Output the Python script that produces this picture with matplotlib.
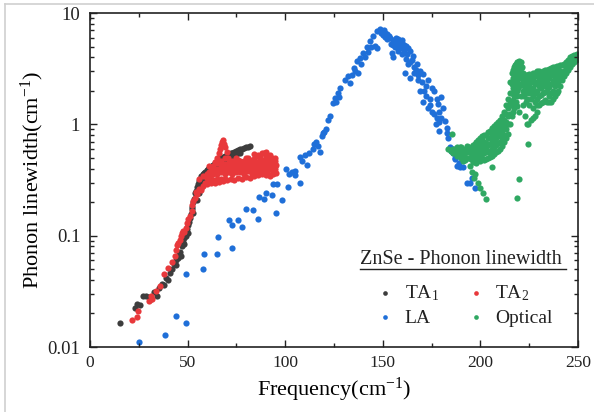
import matplotlib
matplotlib.use("Agg")
import matplotlib.pyplot as plt
from matplotlib.lines import Line2D
from matplotlib.ticker import FixedLocator, FuncFormatter, LogLocator, NullFormatter

plt.rcParams['font.family'] = ['Liberation Serif', 'DejaVu Serif']
plt.rcParams['mathtext.fontset'] = 'custom'
plt.rcParams['mathtext.rm'] = 'Liberation Serif'
plt.rcParams['mathtext.it'] = 'Liberation Serif:italic'

# ---- phonon linewidth data, ZnSe ----
ta1_freq = [15.5, 23, 24, 25.5, 27, 28.5, 30, 31.5, 33, 34.5, 35.5, 37, 38, 39, 40, 41, 42, 43,
            44, 45, 45.5, 46, 47, 47.5, 48, 49, 49.5, 50, 50.5, 51, 51.5, 52, 52.5, 53, 53.5,
            54, 54.5, 55, 55.5, 56, 56.5, 57, 57.5, 58, 58.5, 59, 60, 60.5, 61, 62, 62.5, 63,
            64, 64.5, 65, 66, 66.5, 67, 68, 69, 70, 71, 72, 73, 74, 75, 76, 77, 78, 79, 80,
            81, 82, 53, 55, 56, 57, 58, 59.5, 61, 63, 65, 67, 69, 71, 73, 48, 50, 46.5, 44,
            57.5, 59, 61, 62, 64, 60, 70, 75, 77]
ta1_width = [0.0165, 0.0225, 0.0245, 0.024, 0.029, 0.029, 0.028, 0.027, 0.031, 0.029, 0.034,
             0.037, 0.036, 0.042, 0.040, 0.046, 0.050, 0.056, 0.061, 0.063, 0.068, 0.072,
             0.080, 0.088, 0.095, 0.100, 0.115, 0.125, 0.132, 0.145, 0.155, 0.175, 0.180,
             0.200, 0.215, 0.240, 0.250, 0.275, 0.290, 0.310, 0.325, 0.340, 0.335, 0.355,
             0.365, 0.370, 0.385, 0.395, 0.405, 0.415, 0.425, 0.435, 0.450, 0.460, 0.470,
             0.485, 0.495, 0.500, 0.510, 0.520, 0.530, 0.540, 0.550, 0.555, 0.565, 0.575,
             0.585, 0.595, 0.605, 0.615, 0.625, 0.630, 0.635, 0.16, 0.21, 0.24, 0.27, 0.29,
             0.32, 0.34, 0.38, 0.42, 0.44, 0.47, 0.48, 0.50, 0.085, 0.105, 0.065, 0.055,
             0.30, 0.33, 0.37, 0.36, 0.40, 0.35, 0.49, 0.53, 0.55]

ta2_freq = [21.5, 24, 24.5, 30, 31, 32, 34, 36, 38, 40, 42, 43.5, 44, 44.5, 45, 46, 46.5, 47,
            47.5, 48, 49, 49.5, 50, 51, 52, 52.5, 53, 54, 54.5, 55, 56, 57, 58, 59, 60, 61,
            62, 63, 64, 65, 66, 67, 68, 69, 70, 72, 74, 76, 78, 80, 82, 84, 86, 88, 90, 92,
            94, 95.5,
            56, 58, 60, 62, 63, 64, 65, 66, 66.5, 67, 67.5, 68, 68.5, 69, 70, 70.5, 71, 72,
            73, 74, 75, 76, 77, 78, 79, 80, 81, 82, 83, 84, 85, 86, 87, 88, 89, 90, 91, 92,
            93, 94, 95, 95.5,
            60, 62, 64, 66, 68, 70, 72, 74, 76, 78, 80, 82, 84, 86, 88, 90, 92, 94, 69, 71,
            75, 79, 83, 87, 91,
            61, 61, 61, 63, 63, 65, 65, 65, 67, 67, 67, 69, 69, 69, 71, 71, 73, 73, 73,
            75, 75, 75, 77, 77, 77, 79, 79, 79, 81, 81, 81, 83, 83, 83, 85, 85, 85, 87, 87,
            87, 89, 89, 89, 91, 91, 91, 93, 93, 93, 95, 95, 95,
            84, 86, 88, 90, 92, 89, 85, 80]
ta2_width = [0.0175, 0.0185, 0.021, 0.026, 0.0285, 0.027, 0.032, 0.035, 0.045, 0.051, 0.058,
             0.066, 0.075, 0.082, 0.086, 0.092, 0.100, 0.106, 0.110, 0.108, 0.118, 0.130,
             0.140, 0.150, 0.165, 0.190, 0.205, 0.220, 0.245, 0.235, 0.265, 0.255, 0.280,
             0.300, 0.290, 0.310, 0.300, 0.315, 0.300, 0.320, 0.305, 0.320, 0.310, 0.325,
             0.315, 0.320, 0.315, 0.330, 0.325, 0.335, 0.330, 0.345, 0.350, 0.355, 0.350,
             0.345, 0.355, 0.365,
             0.32, 0.34, 0.36, 0.38, 0.42, 0.46, 0.50, 0.55, 0.60, 0.65, 0.70, 0.72, 0.67,
             0.62, 0.57, 0.50, 0.46, 0.44, 0.47, 0.42, 0.45, 0.48, 0.43, 0.46, 0.40, 0.44,
             0.47, 0.42, 0.45, 0.49, 0.43, 0.46, 0.51, 0.44, 0.48, 0.52, 0.45, 0.49, 0.50,
             0.44, 0.47, 0.43,
             0.33, 0.35, 0.37, 0.38, 0.40, 0.41, 0.40, 0.39, 0.41, 0.40, 0.41, 0.40, 0.42,
             0.41, 0.42, 0.41, 0.42, 0.41, 0.44, 0.43, 0.37, 0.37, 0.38, 0.40, 0.40,
             0.34, 0.37, 0.42, 0.36, 0.40, 0.36, 0.40, 0.45, 0.37, 0.42, 0.47, 0.36, 0.40,
             0.50, 0.37, 0.40, 0.36, 0.41, 0.44, 0.40, 0.43, 0.50, 0.37, 0.40, 0.47, 0.36,
             0.43, 0.47, 0.38, 0.42, 0.50, 0.36, 0.41, 0.48, 0.37, 0.40, 0.46, 0.37, 0.43,
             0.48, 0.38, 0.41, 0.45, 0.36, 0.43, 0.50, 0.39, 0.43, 0.47, 0.40, 0.42, 0.50,
             0.54, 0.53, 0.55, 0.56, 0.53, 0.55, 0.52, 0.50]

la_freq = [25, 38.5, 44, 49, 49, 58, 58.5, 65, 65.5, 72.5, 71, 73, 76, 78, 80, 83.5, 86, 86.5,
           89, 90, 93, 94, 96, 95.5, 98.5, 100.5, 102, 101.5, 103.5, 105, 105, 107.5, 107.5,
           108.5, 110, 111, 114, 115, 117, 118, 119, 119.5, 122, 124.5, 125.5, 127, 128, 126,
           127.5, 130.5, 132, 133, 134, 135, 136, 136.8, 137.3, 138.3, 139, 140, 141, 141.8,
           142.5, 143.4, 144, 145, 146, 147, 147, 148.6, 149.6, 150.5, 151, 152, 153, 153.7,
           154.7, 155, 155, 156, 157, 158, 159.8, 160, 161, 161.4, 162, 162.5, 163, 164, 164,
           165, 165.6, 166, 167.4, 168, 169, 169, 170, 170.6, 170.6, 172, 173, 173, 174, 175,
           176, 176, 177.6, 177.6, 178.4, 179, 179, 179, 180, 180, 181, 181.8, 183, 183,
           183.5, 184.4, 186, 187, 188, 189.5, 191, 193, 195.5, 194.7, 197, 185, 186, 187,
           189, 150, 152, 154, 156, 158, 160, 162, 158, 160, 157, 163, 166, 168, 171, 172,
           174, 175, 177, 112, 116, 120, 121, 123, 149, 151, 155, 159, 161, 164, 167]
la_width = [0.011, 0.0128, 0.0188, 0.0165, 0.045, 0.050, 0.069, 0.068, 0.098, 0.078, 0.139,
            0.125, 0.139, 0.12, 0.175, 0.17, 0.142, 0.224, 0.215, 0.24, 0.23, 0.29, 0.29, 0.16,
            0.21, 0.40, 0.36, 0.275, 0.37, 0.35, 0.38, 0.30, 0.51, 0.47, 0.53, 0.43, 0.60,
            0.67, 0.64, 0.57, 0.79, 0.84, 1.1, 1.57, 1.73, 1.93, 2.14, 1.6, 1.75, 2.5, 2.7,
            2.35, 2.8, 3.2, 3.0, 3.7, 2.9, 3.95, 3.5, 4.4, 4.0, 4.9, 4.5, 5.6, 5.0, 6.2, 5.1,
            6.9, 4.8, 7.2, 6.9, 7.0, 6.6, 6.5, 6.2, 6.0, 4.4, 4.0, 5.7, 5.6, 5.2, 5.5, 5.4,
            4.8, 5.2, 2.9, 5.1, 4.3, 4.8, 4.6, 2.6, 3.8, 4.1, 3.3, 3.5, 2.8, 3.0, 2.0, 2.4,
            2.85, 1.6, 2.2, 2.5, 1.4, 1.7, 2.14, 2.0, 1.25, 1.7, 1.13, 1.53, 1.3, 1.04, 0.88,
            1.14, 1.75, 1.4, 1.08, 0.92, 0.83, 0.76, 0.62, 0.55, 0.49, 0.42, 0.41, 0.41, 0.30,
            0.33, 0.30, 0.27, 0.58, 0.60, 0.50, 0.45, 6.3, 5.8, 5.3, 5.0, 4.6, 4.3, 3.9, 5.9,
            5.7, 6.0, 3.5, 2.9, 2.5, 2.0, 1.8, 1.5, 1.3, 1.0, 0.55, 0.70, 0.85, 0.90, 1.2,
            6.6, 6.1, 5.2, 5.0, 4.7, 3.6, 3.1]

opt_freq = [183.5, 185, 185.4, 189.5, 191, 191, 194.7, 195.7, 197, 196.5, 199, 200, 201.5, 203,
            206, 219, 220, 224.5, 218.8, 220, 224.4, 227, 229,
            186, 186, 188, 188, 188, 190, 190, 190, 192, 192, 192, 194, 194, 194,
            196, 196, 196, 196, 198, 198, 198, 198, 198, 200, 200, 200, 200, 200,
            202, 202, 202, 202, 202, 204, 204, 204, 204, 204, 206, 206, 206, 206, 206,
            208, 208, 208, 208, 208, 210, 210, 210, 210, 210, 212, 212, 212, 212, 212,
            214, 214, 214, 214, 214, 216, 216, 216, 216, 216, 217, 217, 217, 217, 217,
            218, 218, 218, 218, 218, 219, 219, 219, 219, 220, 220, 220, 220,
            221, 221, 221, 221, 222, 222, 222, 222, 223, 223, 223, 223,
            224, 224, 224, 224, 224, 226, 226, 226, 226, 226,
            228, 228, 228, 228, 228, 228, 230, 230, 230, 230, 230,
            232, 232, 232, 232, 232, 234, 234, 234, 234, 234, 236, 236, 236, 236, 236,
            238, 238, 238, 238, 238, 240, 240, 240, 240, 242, 242, 242, 244, 244, 244,
            246, 246, 246, 248, 248, 248, 249.5, 249.5,
            187, 189, 189, 191, 191, 193, 193, 193, 195, 195, 195, 197, 197, 197, 197,
            199, 199, 199, 199, 199, 201, 201, 201, 201, 201, 203, 203, 203, 203,
            205, 205, 205, 205, 205, 207, 207, 207, 207, 207, 209, 209, 209, 209, 209,
            211, 211, 211, 211, 211, 213, 213, 213, 213, 213, 215, 215, 215, 215, 215,
            216.5, 216.5, 216.5, 216.5, 216.5, 217.5, 217.5, 217.5, 217.5, 217.5,
            218.5, 218.5, 218.5, 218.5, 219.5, 219.5, 219.5, 219.5, 220.5, 220.5, 220.5,
            221.5, 221.5, 221.5, 222.5, 222.5, 222.5, 223.5, 223.5, 223.5, 223.5,
            225, 225, 225, 225, 225, 227, 227, 227, 227, 227, 229, 229, 229, 229, 229, 229,
            231, 231, 231, 231, 231, 233, 233, 233, 233, 233, 233, 235, 235, 235, 235, 235,
            235, 237, 237, 237, 237, 237, 239, 239, 239, 239, 239, 241, 241, 241, 241,
            243, 243, 243, 245, 245, 245, 247, 247, 247, 249, 249]
opt_width = [0.60, 0.58, 0.82, 0.62, 0.55, 0.47, 0.42, 0.37, 0.36, 0.33, 0.30, 0.27, 0.24,
             0.215, 0.41, 0.22, 0.32, 0.67, 1.47, 1.28, 1.0, 1.14, 1.3,
             0.55, 0.60, 0.52, 0.58, 0.62, 0.50, 0.56, 0.63, 0.48, 0.55, 0.60, 0.50, 0.56,
             0.62, 0.46, 0.52, 0.58, 0.65, 0.45, 0.50, 0.56, 0.62, 0.70, 0.47, 0.53, 0.60,
             0.68, 0.75, 0.48, 0.55, 0.62, 0.70, 0.80, 0.50, 0.56, 0.65, 0.75, 0.85, 0.52,
             0.60, 0.70, 0.80, 0.92, 0.56, 0.65, 0.75, 0.88, 1.0, 0.60, 0.70, 0.82, 0.95,
             1.1, 0.70, 0.80, 0.95, 1.1, 1.3, 0.82, 1.0, 1.2, 1.4, 1.7, 1.2, 1.5, 1.9, 2.3,
             2.9, 1.4, 1.8, 2.3, 2.9, 3.3, 1.6, 2.1, 2.6, 3.1, 3.5, 2.0, 2.5, 3.0, 3.6, 2.2,
             2.8, 3.3, 3.7, 1.8, 2.6, 3.2, 3.6, 1.5, 2.0, 2.5, 2.9, 1.2, 1.9, 2.3, 2.7,
             1.0, 1.7, 2.1, 2.5, 2.8, 1.1, 1.7, 2.0, 2.4, 2.8,
             1.2, 1.6, 1.9, 2.3, 2.7, 2.9, 1.5, 1.8, 2.2, 2.6, 3.0,
             1.6, 1.9, 2.3, 2.7, 3.0, 1.6, 2.0, 2.4, 2.8, 3.1, 1.6, 1.9, 2.3, 2.8, 3.2,
             1.8, 2.2, 2.6, 3.0, 3.3, 2.0, 2.4, 2.8, 3.3, 2.5, 2.9, 3.4, 2.9, 3.2, 3.6,
             3.3, 3.7, 4.0, 3.6, 4.0, 4.2, 3.9, 4.3,
             0.57, 0.53, 0.60, 0.52, 0.58, 0.50, 0.58, 0.64, 0.49, 0.55, 0.61, 0.48, 0.54,
             0.60, 0.67, 0.48, 0.52, 0.58, 0.66, 0.72, 0.50, 0.57, 0.64, 0.72, 0.78, 0.49,
             0.60, 0.68, 0.80, 0.51, 0.58, 0.66, 0.76, 0.88, 0.54, 0.62, 0.72, 0.84, 0.96,
             0.58, 0.68, 0.78, 0.90, 1.05, 0.64, 0.75, 0.88, 1.02, 1.2, 0.76, 0.90, 1.05,
             1.25, 1.5, 1.0, 1.25, 1.55, 1.9, 2.4,
             1.3, 1.65, 2.1, 2.6, 3.1, 1.5, 2.0, 2.45, 3.0, 3.4,
             1.8, 2.3, 2.8, 3.3, 2.1, 2.7, 3.2, 3.65, 2.3, 2.9, 3.4,
             2.3, 2.8, 3.3, 1.8, 2.2, 2.6, 1.6, 2.0, 2.4, 2.75,
             1.5, 1.9, 2.2, 2.6, 2.85, 1.4, 1.8, 2.1, 2.5, 2.9, 1.5, 1.7, 2.0, 2.4, 2.8, 3.0,
             1.55, 1.85, 2.1, 2.45, 2.85, 1.65, 1.95, 2.2, 2.55, 2.9, 3.1, 1.6, 1.8, 2.15,
             2.6, 3.0, 3.15, 1.7, 2.0, 2.45, 2.9, 3.25, 1.9, 2.3, 2.7, 3.1, 3.35, 2.2, 2.6,
             3.0, 3.4, 2.7, 3.0, 3.5, 3.1, 3.5, 3.8, 3.5, 3.9, 4.1, 3.8, 4.2]

series_labels = ['TA$_1$', 'TA$_2$', 'LA', 'Optical']
series_colors = ['#3d3d3d', '#e8383b', '#1f6fd8', '#2fa862']
x_ticks = [0, 50, 100, 150, 200, 250]
y_ticks = [0.01, 0.1, 1, 10]

fig = plt.figure(figsize=(5.94, 4.12), dpi=100)
ax = fig.add_axes([90 / 594, 65 / 412, 488 / 594, 334 / 412])

dot = dict(s=20, linewidths=0)
h_ta1 = ax.scatter(ta1_freq, ta1_width, color=series_colors[0], label=series_labels[0], **dot)
h_ta2 = ax.scatter(ta2_freq, ta2_width, color=series_colors[1], label=series_labels[1], **dot)
h_la = ax.scatter(la_freq, la_width, color=series_colors[2], label=series_labels[2], **dot)
h_opt = ax.scatter(opt_freq, opt_width, color=series_colors[3], label=series_labels[3], **dot)

ax.set_yscale('log')
ax.set_xlim(0, 250)
ax.set_ylim(0.01, 10)

ax.xaxis.set_major_locator(FixedLocator(x_ticks))
ax.xaxis.set_minor_locator(FixedLocator([25, 75, 125, 175, 225]))
ax.yaxis.set_major_locator(FixedLocator(y_ticks))
ax.yaxis.set_minor_locator(LogLocator(base=10, subs=range(2, 10)))
ax.yaxis.set_minor_formatter(NullFormatter())
ax.yaxis.set_major_formatter(FuncFormatter(lambda v, p: f'{v:g}'))

ax.tick_params(which='both', direction='in', top=True, right=True, width=1.0, colors='#222222')
ax.tick_params(which='major', length=5)
ax.tick_params(which='minor', length=3)
ax.tick_params(axis='x', labelsize=12.5, pad=6)
ax.tick_params(axis='y', labelsize=13.5, pad=7)
for sp in ax.spines.values():
    sp.set_linewidth(1.2)
    sp.set_color('#222222')

ax.set_xlabel('Frequency(cm$^{-1}$)', fontsize=16, labelpad=3)
ax.set_ylabel('Phonon linewidth(cm$^{-1}$)', fontsize=16, labelpad=1)

# legend heading with an underline
ax.text((360 - 90) / 488, (347 - 259) / 334, 'ZnSe - Phonon linewidth', transform=ax.transAxes,
        fontsize=14.5, ha='left', va='center', color='#222222')
ax.add_line(Line2D([(360 - 90) / 488, (566 - 90) / 488], [(347 - 269) / 334] * 2,
                   transform=ax.transAxes, color='#222222', lw=1.0))

leg = ax.legend(handles=[h_ta1, h_la, h_ta2, h_opt], ncol=2, frameon=False, fontsize=14,
                loc='center', bbox_to_anchor=((464 - 90) / 488, (347 - 305) / 334),
                handlelength=1.0, handletextpad=0.5, columnspacing=1.4, labelspacing=0.3,
                markerscale=0.75)
for t in leg.get_texts():
    t.set_color('#222222')

# light frame lines along the top and left edges of the figure
fig.add_artist(Line2D([5 / 594, 5 / 594], [0, 1 - 4 / 412], transform=fig.transFigure,
                      color='#cfcfcf', lw=1.2))
fig.add_artist(Line2D([5 / 594, 1], [1 - 4 / 412, 1 - 4 / 412], transform=fig.transFigure,
                      color='#cfcfcf', lw=1.2))

fig.savefig('out.png', dpi=100)
